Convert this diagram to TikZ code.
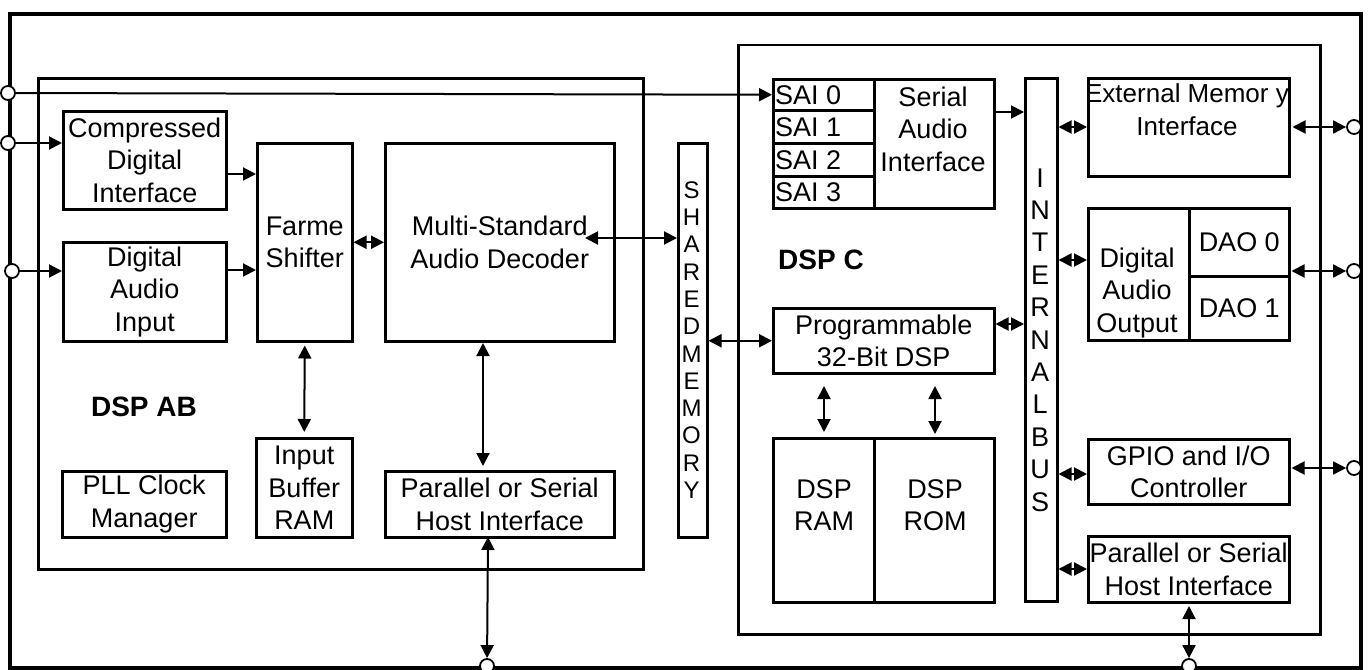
\documentclass[tikz,border=0pt]{standalone}
\usepackage{fontspec}
\setmainfont{Liberation Sans}
\usetikzlibrary{arrows.meta}
\newcommand\dfont{\fontsize{27}{32.5}\selectfont}
\newcommand\mkbox[7][blk]{\node[#1, anchor=north west, minimum width=#5-#3, minimum height=#6-#4] (#2) at (#3,#4) {#7};}
\begin{document}
\begin{tikzpicture}[x=1pt,y=-1pt,
  blk/.style={draw, line width=2.5pt, inner sep=0pt, align=center, font=\dfont},
  outerframe/.style={draw, line width=4pt, inner sep=0pt},
  txt/.style={inner sep=0pt, align=center, font=\dfont},
  title/.style={inner sep=0pt, font=\fontsize{28}{34}\selectfont\bfseries},
  con/.style={line width=2pt, >={Triangle[length=13pt,width=13pt]}},
  port/.style={circle, draw, fill=white, line width=1.8pt, minimum size=14pt, inner sep=0pt},
]
\useasboundingbox (0,0) rectangle (1370,669);
\mkbox[outerframe]{outer}{8}{12}{1359}{666}{}
\mkbox{dspab}{37}{77}{642}{568}{}
\mkbox{dspc}{737}{44}{1319}{633}{}
% DSP AB blocks
\mkbox{cdi}{62}{110}{225}{208}{Compressed\\Digital\\Interface}
\mkbox{dai}{62}{241}{225}{340}{Digital\\Audio\\Input}
\mkbox{farme}{256}{142}{351}{340}{Farme\\Shifter}
\mkbox{msd}{384}{142}{613}{340}{Multi-Standard\\Audio Decoder}
\mkbox{pll}{61}{470}{225}{536}{PLL Clock\\Manager}
\mkbox{ibr}{255}{437}{351}{536}{Input\\Buffer\\RAM}
\mkbox{lhost}{384}{470}{613}{536}{Parallel or Serial\\Host Interface}
\node[title] (dspabt) at (144,407) {DSP AB};
% shared memory
\mkbox{shm}{677}{142}{706}{536}{}
\node[inner sep=0pt, align=center, font=\fontsize{24}{27.3}\selectfont] (shmt) at (691.5,340) {S\\H\\A\\R\\E\\D\\M\\E\\M\\O\\R\\Y};
% DSP C blocks
\mkbox{sai0}{772}{78}{873}{109}{}
\mkbox{sai1}{772}{109}{873}{142}{}
\mkbox{sai2}{772}{142}{873}{175}{}
\mkbox{sai3}{772}{175}{873}{207}{}
\node[txt, anchor=west] (sai0t) at ([xshift=3pt]sai0.west) {SAI 0};
\node[txt, anchor=west] (sai1t) at ([xshift=3pt]sai1.west) {SAI 1};
\node[txt, anchor=west] (sai2t) at ([xshift=3pt]sai2.west) {SAI 2};
\node[txt, anchor=west] (sai3t) at ([xshift=3pt]sai3.west) {SAI 3};
\mkbox{sai}{873}{78}{993}{207}{}
\node[txt] (sait) at (933,129) {Serial\\Audio\\Interface};
\node[title] (dspct) at (821,260) {DSP C};
\mkbox{prog}{772}{307}{993}{372}{Programmable\\32-Bit DSP}
\mkbox{ram}{772}{437}{873}{601}{}
\mkbox{rom}{873}{437}{993}{601}{}
\node[txt] (ramt) at (824,505) {DSP\\RAM};
\node[txt] (romt) at (935,505) {DSP\\ROM};
\mkbox{bus}{1024}{77}{1056}{600}{}
\node[inner sep=0pt, align=center, font=\fontsize{27}{32.4}\selectfont] (bust) at (1040,340) {I\\N\\T\\E\\R\\N\\A\\L\\B\\U\\S};
\mkbox{emi}{1087}{77}{1288}{175}{}
\node[txt, font=\fontsize{26}{33}\selectfont] (emit) at (1187,110) {External Memor y\\Interface};
\mkbox{dao}{1087}{207}{1188}{339}{}
\node[txt] (daot) at (1137,293) {Digital\\Audio\\Output};
\mkbox{dao0}{1188}{207}{1288}{275}{DAO 0}
\mkbox{dao1}{1188}{275}{1288}{339}{DAO 1}
\mkbox{gpio}{1087}{438}{1288}{503}{GPIO and I/O\\Controller}
\mkbox{rhost}{1087}{535}{1288}{601}{Parallel or Serial\\Host Interface}
% ports
\node[port] (c1) at (8,93) {};
\node[port] (c2) at (8,143) {};
\node[port] (c3) at (12,271) {};
\node[port] (cr1) at (1354,127) {};
\node[port] (cr2) at (1354,271) {};
\node[port] (cr3) at (1354,468) {};
\node[port] (cb1) at (487,666) {};
\node[port] (cb2) at (1189,666) {};
% helper coordinates
\coordinate (p1) at (228,174);
\coordinate (p2) at (225,270);
\coordinate (p3) at (585,238);
\coordinate (p4) at (483,343);
\coordinate (p5) at (483,466);
\coordinate (p6) at (488,537);
\coordinate (q1) at (0,260);
\coordinate (q2) at (0,324);
\coordinate (q3) at (995,112);
\coordinate (q5) at (0,474);
\coordinate (q6) at (0,569);
\coordinate (q7) at (1189,606);
\coordinate (r1) at (824,386);
\coordinate (r2) at (824,432);
\coordinate (r3) at (935,386);
\coordinate (r4) at (935,434);
% connectors
\draw[con,->] (c1) -- (sai0.west);
\draw[con,->] (c2) -- (c2 -| cdi.west);
\draw[con,->] (c3) -- (c3 -| dai.west);
\draw[con,->] (p1) -- (p1 -| farme.west);
\draw[con,->] (p2) -- (p2 -| farme.west);
\draw[con,<->] (farme.east) -- (msd.west);
\draw[con,<->] (p3) -- (p3 -| shm.west);
\draw[con,<->] ([yshift=-3pt]farme.south) -- ([yshift=5pt]ibr.north);
\draw[con,<->] (p4) -- (p5);
\draw[con,<->] (p6) -- (cb1);
\draw[con,<->] (shm.east |- prog.west) -- (prog.west);
\draw[con,->] (q3) -- (q3 -| bus.west);
\draw[con,<->] (bus.east |- cr1) -- (emi.west |- cr1);
\draw[con,<->] ([xshift=2pt]emi.east |- cr1) -- (cr1);
\draw[con,<->] (bus.east |- q1) -- (dao.west |- q1);
\draw[con,<->] ([xshift=1pt]dao0.east |- cr2) -- (cr2);
\draw[con,<->] (prog.east |- q2) -- (bus.west |- q2);
\draw[con,<->] (r1) -- (r2);
\draw[con,<->] (r3) -- (r4);
\draw[con,<->] (bus.east |- q5) -- (gpio.west |- q5);
\draw[con,<->] ([xshift=1pt]gpio.east |- cr3) -- (cr3);
\draw[con,<->] (bus.east |- q6) -- (rhost.west |- q6);
\draw[con,<->] (q7) -- (cb2);
\end{tikzpicture}
\end{document}
